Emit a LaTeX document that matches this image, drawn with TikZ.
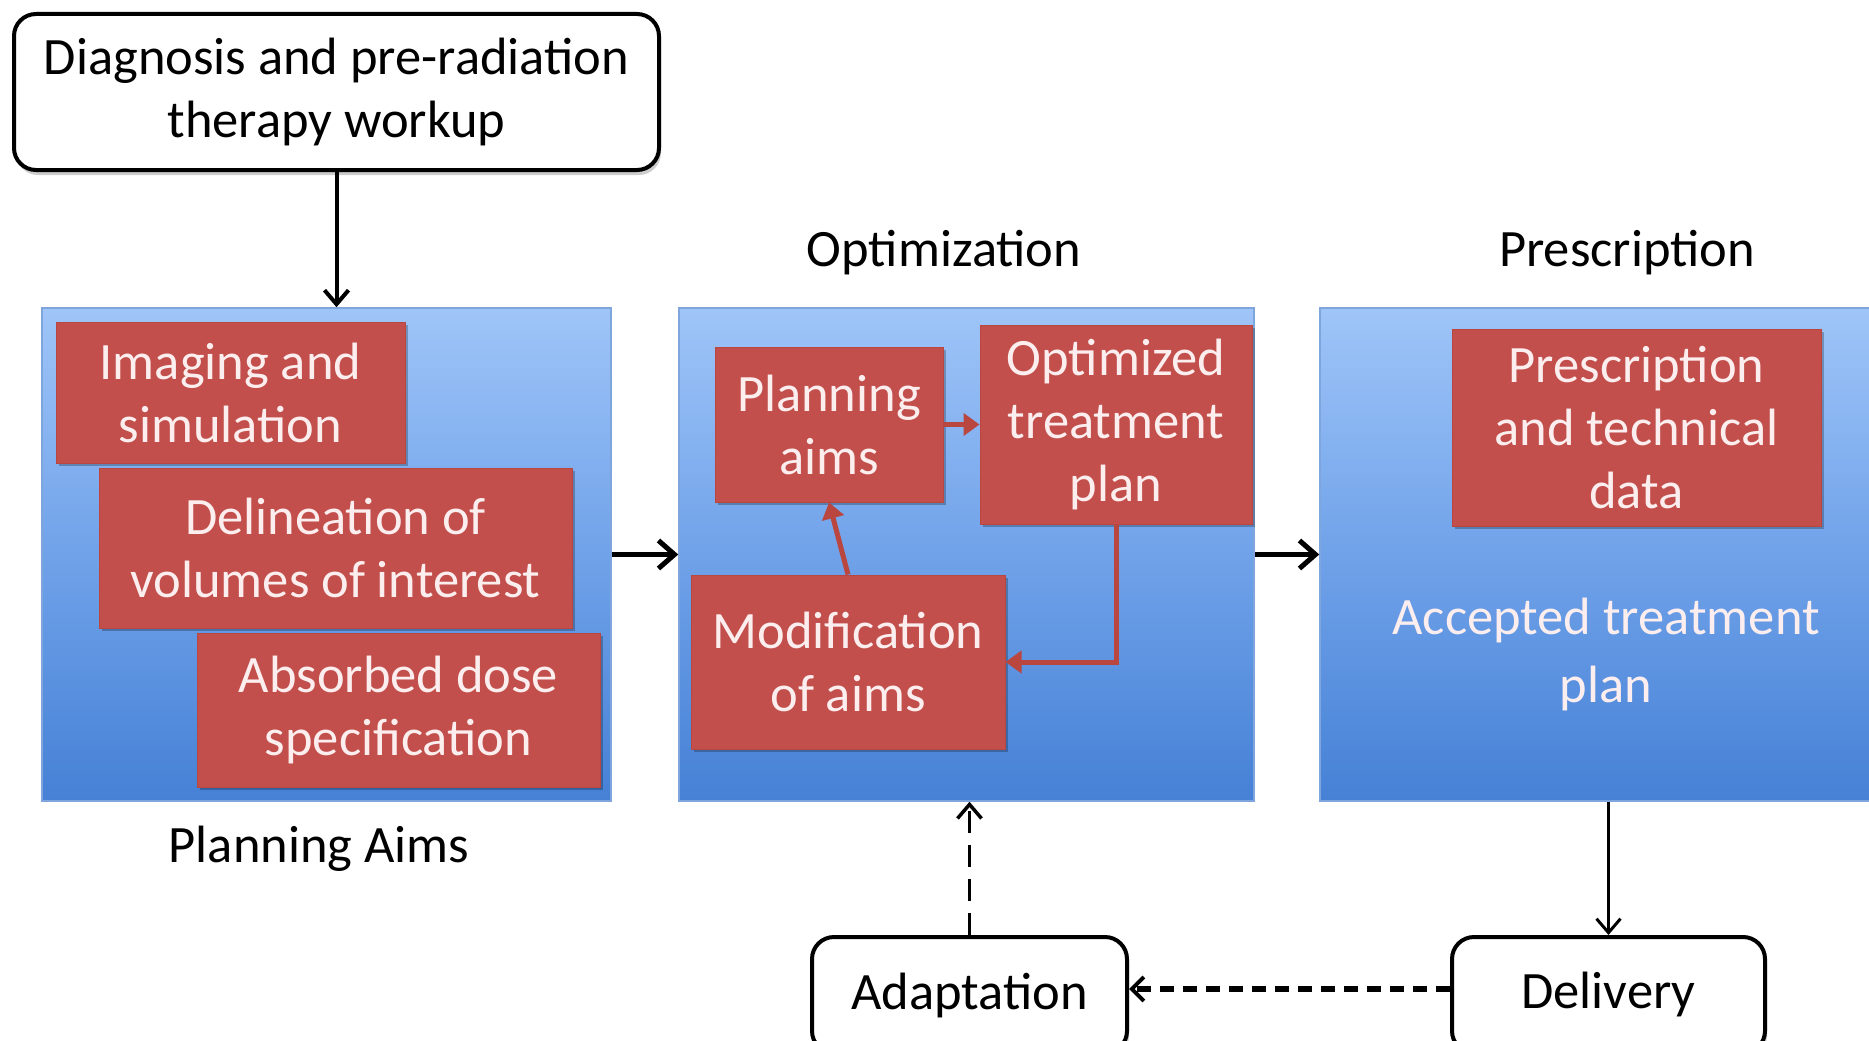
\documentclass[tikz,border=0pt]{standalone}
\usepackage{fontspec}
\setmainfont{Carlito}
\usetikzlibrary{arrows.meta,shadows}
\definecolor{redbox}{HTML}{C24F4B}
\definecolor{redline}{HTML}{B9463F}
\definecolor{redtext}{HTML}{FCEEEE}
\definecolor{bluetop}{HTML}{9FC5F8}
\definecolor{bluemid}{HTML}{70A2E9}
\definecolor{bluebot}{HTML}{4681D6}
\definecolor{blueedge}{HTML}{7FA6DC}
\begin{document}
\begin{tikzpicture}[x=1pt,y=-1pt,
  every node/.style={font=\fontsize{52.5}{63}\selectfont, align=center, inner sep=0pt},
  panel/.style={draw=blueedge, line width=1.5pt, top color=bluetop, bottom color=bluebot, middle color=bluemid, minimum height=493pt},
  redb/.style={fill=redbox, draw=redline, line width=1pt, text=redtext,
    drop shadow={shadow xshift=3pt, shadow yshift=-3pt, fill=black, opacity=0.25}},
  blackb/.style={draw=black, line width=4pt, rounded corners=22pt, fill=white,
    drop shadow={shadow xshift=2pt, shadow yshift=-5pt, fill=black, opacity=0.2}},
  bar/.style={line width=5pt, -{Straight Barb[length=16pt,width=28pt,line width=5pt]}},
  redarr/.style={draw=redline, line width=5pt, -{Triangle[length=16pt,width=22pt]}}
]
\clip (0,0) rectangle (1869,1041);
\fill[white] (0,0) rectangle (1869,1041);

% top box
\node[blackb, minimum width=645pt, minimum height=156pt] (diag) at (336.5,92) {Diagnosis and pre-radiation\\therapy workup};

% panels
\node[panel, minimum width=569pt] (p1) at (326.5,554.5) {};
\node[panel, minimum width=575pt] (p2) at (966.5,554.5) {};
\node[panel, minimum width=580pt] (p3) at (1610,554.5) {};

% labels
\node (loptim) at (944,253) {Optimization};
\node (lpresc) at (1627,253) {Prescription};
\node (laims) at (319,849) {Planning Aims};

% red boxes panel 1
\node[redb, minimum width=349pt, minimum height=141pt] (imag) at (230.5,392.5) {Imaging and\\simulation};
\node[redb, minimum width=473pt, minimum height=160pt] (delin) at (335.5,548) {Delineation of\\volumes of interest};
\node[redb, minimum width=403pt, minimum height=154pt] (absd) at (398.5,710) {Absorbed dose\\specification};

% red boxes panel 2
\node[redb, minimum width=228pt, minimum height=155pt] (plan) at (829,424.5) {Planning\\aims};
\node[redb, minimum width=272pt, minimum height=199pt] (opt) at (1116,424.5) {Optimized\\treatment\\plan};
\node[redb, minimum width=314pt, minimum height=174pt] (mod) at (848,662) {Modification\\of aims};

% panel 3
\node[redb, minimum width=369pt, minimum height=197pt] (pdata) at (1636.5,427.5) {Prescription\\and technical\\data};
\node[text=redtext, font=\fontsize{52.5}{68}\selectfont] (acc) at (1606,654) {Accepted treatment\\plan};

% bottom boxes
\node[blackb, minimum width=315pt, minimum height=116pt] (adapt) at (969.5,995) {Adaptation};
\node[blackb, minimum width=313pt, minimum height=116pt] (deliv) at (1608.5,995) {\raisebox{10pt}{Delivery}};

% connectors
\draw[line width=4pt, -{Straight Barb[length=14pt,width=24pt,line width=4pt]}] (diag.south) -- (diag.south |- p1.north);
\draw[bar] (p1.east) -- (p2.west);
\draw[bar] (p2.east) -- (p3.west);
\draw[redarr] (plan.east) -- (opt.west |- plan.east);
\draw[redarr] (mod.north) -- (plan.south);
\draw[redarr] (opt.south) |- (mod.east);
\draw[line width=3pt, -{Straight Barb[length=14pt,width=24pt,line width=3pt]}] (deliv.north |- p3.south) -- (deliv.north);
\draw[line width=3.5pt, dash pattern=on 22pt off 12pt, -{Straight Barb[length=14pt,width=24pt,line width=3.5pt]}] (adapt.north) -- (adapt.north |- p2.south);
\draw[line width=6pt, dash pattern=on 14pt off 9pt, -{Straight Barb[length=12pt,width=24pt,line width=4pt]}] ([yshift=6pt]deliv.west) -- ([yshift=6pt]adapt.east);
\end{tikzpicture}
\end{document}
